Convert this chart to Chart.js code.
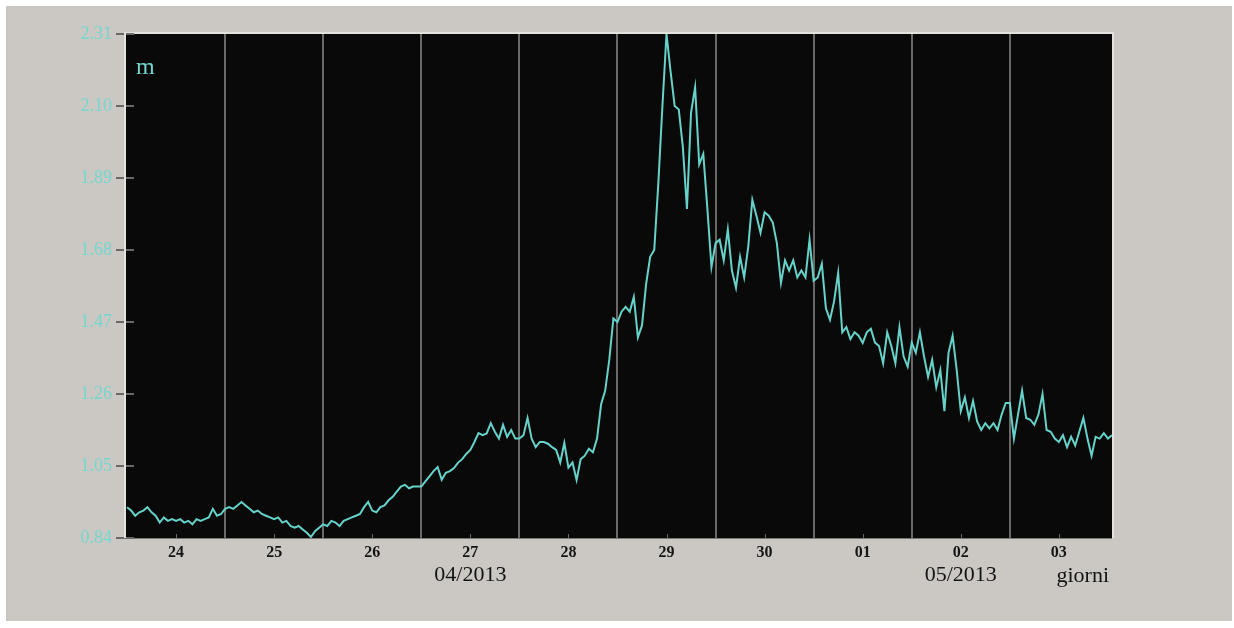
<!DOCTYPE html>
<html>
<head>
<meta charset="utf-8">
<title>Livello idrometrico</title>
<script src="https://cdn.jsdelivr.net/npm/chart.js@4/dist/chart.umd.min.js"></script>
<style>
  html, body { margin: 0; padding: 0; background: #ffffff; }
  #wrap { width: 1234px; height: 628px; }
</style>
</head>
<body>
<div id="wrap"><canvas id="chart" width="1234" height="628"></canvas></div>
<script>
// Hourly water level (m), one array per day, from 24/04/2013 00:00
const apr24 = [0.93,0.92,0.905,0.915,0.92,0.93,0.915,0.905,0.885,0.90,0.89,0.895,0.89,0.895,0.885,0.89,0.88,0.895,0.89,0.895,0.90,0.925,0.905,0.91];
const apr25 = [0.925,0.93,0.925,0.935,0.945,0.935,0.925,0.915,0.92,0.91,0.905,0.90,0.895,0.90,0.885,0.89,0.875,0.87,0.875,0.865,0.855,0.843,0.86,0.87];
const apr26 = [0.88,0.875,0.89,0.885,0.875,0.89,0.895,0.90,0.905,0.91,0.93,0.945,0.92,0.915,0.93,0.935,0.95,0.96,0.975,0.99,0.995,0.985,0.99,0.99];
const apr27 = [0.99,1.005,1.02,1.035,1.047,1.01,1.03,1.035,1.044,1.06,1.07,1.085,1.097,1.12,1.146,1.14,1.145,1.175,1.15,1.13,1.17,1.135,1.155,1.13];
const apr28 = [1.13,1.14,1.19,1.13,1.105,1.12,1.12,1.115,1.105,1.097,1.06,1.117,1.045,1.06,1.009,1.07,1.08,1.10,1.09,1.13,1.23,1.27,1.36,1.48];
const apr29 = [1.47,1.50,1.514,1.50,1.543,1.425,1.46,1.58,1.66,1.68,1.875,2.10,2.31,2.20,2.10,2.09,1.98,1.80,2.08,2.155,1.93,1.96,1.80,1.63];
const apr30 = [1.70,1.71,1.65,1.74,1.62,1.57,1.66,1.60,1.69,1.826,1.78,1.73,1.79,1.78,1.76,1.70,1.584,1.65,1.62,1.65,1.60,1.62,1.60,1.71];
const may01 = [1.59,1.60,1.64,1.51,1.476,1.53,1.613,1.44,1.455,1.42,1.44,1.43,1.409,1.44,1.45,1.41,1.40,1.35,1.44,1.40,1.35,1.455,1.37,1.34];
const may02 = [1.41,1.38,1.44,1.37,1.31,1.36,1.28,1.33,1.21,1.38,1.43,1.33,1.21,1.25,1.19,1.24,1.18,1.155,1.175,1.16,1.175,1.155,1.20,1.234];
const may03 = [1.234,1.13,1.20,1.27,1.19,1.185,1.17,1.20,1.26,1.155,1.15,1.13,1.12,1.14,1.105,1.135,1.11,1.15,1.19,1.13,1.08,1.135,1.13,1.146];
const may04 = [1.13,1.14];

const dayLabels = ['24','25','26','27','28','29','30','01','02','03'];
const monthLabels = [
  { text: '04/2013', day: 3 },   // centred under 27
  { text: '05/2013', day: 8 }    // centred under 02
];
const yTicks = [0.84, 1.05, 1.26, 1.47, 1.68, 1.89, 2.10, 2.31];
const unitLabel = 'm';
const axisTitle = 'giorni';

const levels = [].concat(apr24, apr25, apr26, apr27, apr28, apr29, apr30, may01, may02, may03, may04);
const points = levels.map((v, h) => ({ x: h, y: v }));

const xTickHours = [];
for (let h = 0; h <= 240; h += 12) xTickHours.push(h);

const SERIF = '"Liberation Serif", "DejaVu Serif", serif';
const CYAN = '#66d3ca';
const CYAN_TEXT = '#74d6ce';

const frame = {
  id: 'frame',
  beforeDraw(chart) {
    const { ctx, chartArea: a } = chart;
    ctx.save();
    ctx.fillStyle = '#ffffff';
    ctx.fillRect(0, 0, chart.width, chart.height);
    ctx.fillStyle = '#cbc8c3';
    ctx.fillRect(6, 6, 1226, 615);
    ctx.fillStyle = '#0a0909';
    ctx.fillRect(a.left, a.top, a.right - a.left, a.bottom - a.top);
    ctx.restore();
  },
  beforeDatasetsDraw(chart) {
    const { ctx, chartArea: a, scales } = chart;
    ctx.save();
    // light border on left, top and right
    ctx.strokeStyle = '#e4e2de';
    ctx.lineWidth = 2;
    ctx.beginPath();
    ctx.moveTo(a.left - 1, a.bottom);
    ctx.lineTo(a.left - 1, a.top - 1);
    ctx.lineTo(a.right + 1, a.top - 1);
    ctx.lineTo(a.right + 1, a.bottom);
    ctx.stroke();
    // bottom edge
    ctx.strokeStyle = '#7a7876';
    ctx.lineWidth = 1;
    ctx.beginPath();
    ctx.moveTo(a.left, a.bottom + 0.5);
    ctx.lineTo(a.right, a.bottom + 0.5);
    ctx.stroke();
    // inner stubs of the y ticks
    ctx.strokeStyle = '#6a6866';
    ctx.lineWidth = 2;
    yTicks.forEach(v => {
      const y = Math.round(scales.y.getPixelForValue(v));
      ctx.beginPath();
      ctx.moveTo(a.left, y);
      ctx.lineTo(a.left + 8, y);
      ctx.stroke();
    });
    // small marks at noon along the bottom
    ctx.strokeStyle = '#6a6866';
    ctx.lineWidth = 1;
    dayLabels.forEach((d, i) => {
      const x = Math.round(scales.x.getPixelForValue(i * 24 + 12)) + 0.5;
      ctx.beginPath();
      ctx.moveTo(x, a.bottom - 4);
      ctx.lineTo(x, a.bottom);
      ctx.stroke();
    });
    ctx.restore();
  },
  afterDraw(chart) {
    const { ctx, chartArea: a, scales } = chart;
    ctx.save();
    ctx.fillStyle = CYAN_TEXT;
    ctx.font = '24px ' + SERIF;
    ctx.textAlign = 'left';
    ctx.textBaseline = 'alphabetic';
    ctx.fillText(unitLabel, a.left + 10, 74);

    ctx.fillStyle = '#141414';
    ctx.font = '22px ' + SERIF;
    ctx.textAlign = 'center';
    ctx.textBaseline = 'middle';
    monthLabels.forEach(m => {
      const x = scales.x.getPixelForValue(m.day * 24 + 12);
      ctx.fillText(m.text, x, 575);
    });
    ctx.textAlign = 'right';
    ctx.fillText(axisTitle, a.right - 3, 576);
    ctx.restore();
  }
};

new Chart(document.getElementById('chart'), {
  type: 'line',
  data: {
    datasets: [{
      data: points,
      borderColor: CYAN,
      borderWidth: 2,
      pointRadius: 0,
      tension: 0,
      fill: false
    }]
  },
  options: {
    responsive: false,
    animation: false,
    devicePixelRatio: 1,
    layout: { padding: { left: 0, right: 122, top: 34, bottom: 0 } },
    plugins: { legend: { display: false }, tooltip: { enabled: false } },
    scales: {
      x: {
        type: 'linear',
        min: -0.25,
        max: 241,
        afterBuildTicks: s => { s.ticks = xTickHours.map(v => ({ value: v })); },
        afterFit: s => { s.height = 90; },
        border: { display: false },
        grid: {
          drawTicks: false,
          lineWidth: 2,
          color: c => (c.tick && c.tick.value % 24 === 0 && c.tick.value > 0 && c.tick.value < 240) ? '#6b6967' : 'rgba(0,0,0,0)'
        },
        ticks: {
          autoSkip: false,
          maxRotation: 0,
          padding: 5,
          color: '#151515',
          font: { family: SERIF, size: 16, weight: 'bold' },
          callback: v => (v % 24 === 12 ? dayLabels[(v - 12) / 24] : '')
        }
      },
      y: {
        min: 0.84,
        max: 2.31,
        afterBuildTicks: s => { s.ticks = yTicks.map(v => ({ value: v })); },
        afterFit: s => { s.width = 126; },
        border: { display: false },
        grid: {
          drawOnChartArea: false,
          drawTicks: true,
          tickLength: 10,
          lineWidth: 2,
          color: '#6a6866'
        },
        ticks: {
          padding: 4,
          color: CYAN_TEXT,
          font: { family: SERIF, size: 18 },
          callback: v => Number(v).toFixed(2)
        }
      }
    }
  },
  plugins: [frame]
});
</script>
</body>
</html>
